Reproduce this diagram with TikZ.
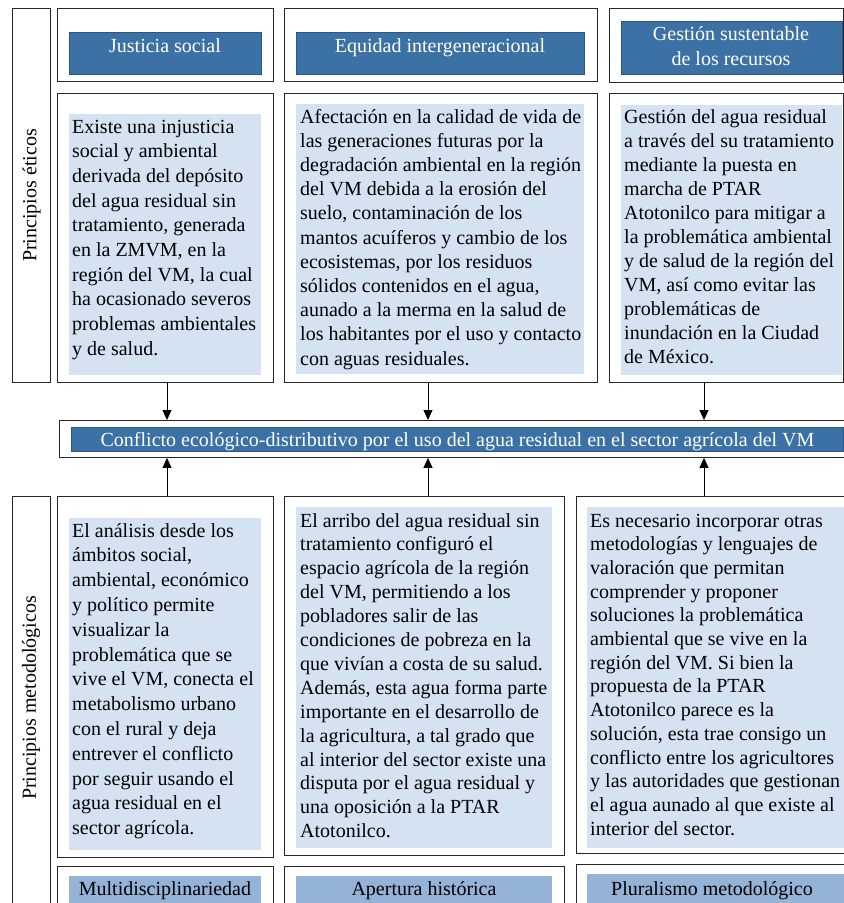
\documentclass[tikz,border=0pt]{standalone}
\usepackage{fontspec}
\setmainfont{Liberation Serif}
\usetikzlibrary{arrows.meta}
\definecolor{hdrblue}{RGB}{59,113,164}
\definecolor{hdrborder}{RGB}{40,88,135}
\definecolor{lightblue}{RGB}{212,226,242}
\definecolor{midblue}{RGB}{149,179,215}
\newcommand\bodytext[2]{\parbox[t]{400pt}{\raggedright\fontsize{20}{#1}\selectfont #2}}
\tikzset{
  frame/.style={draw=black!85, line width=0.9pt, fill=white, inner sep=0pt, anchor=north west},
  hdrbox/.style={fill=hdrblue, draw=hdrborder, line width=0.6pt, inner sep=0pt, anchor=north west},
  lightbox/.style={fill=lightblue, inner sep=0pt, anchor=north west},
  midbox/.style={fill=midblue, inner sep=0pt, anchor=north west},
  hdrtxt/.style={text=white, font=\fontsize{20}{25}\selectfont, inner sep=0pt, anchor=base},
  midtxt/.style={text=black, font=\fontsize{20}{25}\selectfont, inner sep=0pt, anchor=base},
  bodytxt/.style={inner sep=0pt, anchor=base west},
  sidetxt/.style={font=\fontsize{20}{24}\selectfont, rotate=90, inner sep=0pt},
  arr/.style={-{Triangle[length=10pt,width=9pt]}, line width=0.8pt, draw=black}
}
\begin{document}
\begin{tikzpicture}[x=1pt,y=-1pt]
\useasboundingbox (0,0) rectangle (844,903);
\clip (0,0) rectangle (844,903);
\fill[white] (0,0) rectangle (844,903);
% side labels
\node[frame, minimum width=38pt, minimum height=374pt] (L1) at (12,8) {};
\node[sidetxt] (L1t) at (L1.center) {Principios éticos};
\node[frame, minimum width=38pt, minimum height=420pt] (L2) at (12,496) {};
\node[sidetxt] (L2t) at (31,698) {Principios metodológicos};
% top headers
\node[frame, minimum width=216pt, minimum height=73pt] (H1) at (57,8) {};
\node[frame, minimum width=313pt, minimum height=73pt] (H2) at (284,8) {};
\node[frame, minimum width=234pt, minimum height=74pt] (H3) at (609,8) {};
\node[hdrbox, minimum width=192pt, minimum height=42pt] (HB1) at (69,32) {};
\node[hdrbox, minimum width=288pt, minimum height=42pt] (HB2) at (296,32) {};
\node[hdrbox, minimum width=221pt, minimum height=53pt] (HB3) at (621,21) {};
\node[hdrtxt] (HT1) at (165,52) {Justicia social};
\node[hdrtxt] (HT2) at (440,52) {Equidad intergeneracional};
\node[hdrtxt] (HT3a) at (731,40) {Gestión sustentable};
\node[hdrtxt] (HT3b) at (731,65) {de los recursos};
% top bodies
\node[frame, minimum width=216pt, minimum height=289pt] (B1) at (57,93) {};
\node[frame, minimum width=313pt, minimum height=289pt] (B2) at (284,93) {};
\node[frame, minimum width=234pt, minimum height=289pt] (B3) at (609,93) {};
\node[lightbox, minimum width=192pt, minimum height=261pt] (BL1) at (69,114) {};
\node[lightbox, minimum width=288pt, minimum height=270pt] (BL2) at (296,104) {};
\node[lightbox, minimum width=221pt, minimum height=270pt] (BL3) at (621,105) {};
\node[bodytxt] (BT1) at (72,133) {\bodytext{24.7}{Existe una injusticia\\
social y ambiental\\
derivada del depósito\\
del agua residual sin\\
tratamiento, generada\\
en la ZMVM, en la\\
región del VM, la cual\\
ha ocasionado severos\\
problemas ambientales\\
y de salud.}};
\node[bodytxt] (BT2) at (300,123) {\bodytext{24.2}{Afectación en la calidad de vida de\\
las generaciones futuras por la\\
degradación ambiental en la región\\
del VM debida a la erosión del\\
suelo, contaminación de los\\
mantos acuíferos y cambio de los\\
ecosistemas, por los residuos\\
sólidos contenidos en el agua,\\
aunado a la merma en la salud de\\
los habitantes por el uso y contacto\\
con aguas residuales.}};
\node[bodytxt] (BT3) at (624,123) {\bodytext{24.0}{Gestión del agua residual\\
a través del su tratamiento\\
mediante la puesta en\\
marcha de PTAR\\
Atotonilco para mitigar a\\
la problemática ambiental\\
y de salud de la región del\\
VM, así como evitar las\\
problemáticas de\\
inundación en la Ciudad\\
de México.}};
% conflict
\node[frame, minimum width=800pt, minimum height=37pt] (C) at (59,420) {};
\node[hdrbox, minimum width=772pt, minimum height=24pt] (CB) at (71,427) {};
\node[hdrtxt] (CT) at (457.5,446) {Conflicto ecológico-distributivo por el uso del agua residual en el sector agrícola del VM};
% bottom bodies
\node[frame, minimum width=216pt, minimum height=361pt] (D1) at (57,496) {};
\node[frame, minimum width=280pt, minimum height=359pt] (D2) at (284,496) {};
\node[frame, minimum width=280pt, minimum height=357pt] (D3) at (576,496) {};
\node[lightbox, minimum width=192pt, minimum height=332pt] (DL1) at (69,518) {};
\node[lightbox, minimum width=256pt, minimum height=341pt] (DL2) at (296,507) {};
\node[lightbox, minimum width=270pt, minimum height=341pt] (DL3) at (587,507) {};
\node[bodytxt] (DT1) at (72,537) {\bodytext{24.8}{El análisis desde los\\
ámbitos social,\\
ambiental, económico\\
y político permite\\
visualizar la\\
problemática que se\\
vive el VM, conecta el\\
metabolismo urbano\\
con el rural y deja\\
entrever el conflicto\\
por seguir usando el\\
agua residual en el\\
sector agrícola.}};
\node[bodytxt] (DT2) at (300,527) {\bodytext{23.9}{El arribo del agua residual sin\\
tratamiento configuró el\\
espacio agrícola de la región\\
del VM, permitiendo a los\\
pobladores salir de las\\
condiciones de pobreza en la\\
que vivían a costa de su salud.\\
Además, esta agua forma parte\\
importante en el desarrollo de\\
la agricultura, a tal grado que\\
al interior del sector existe una\\
disputa por el agua residual y\\
una oposición a la PTAR\\
Atotonilco.}};
\node[bodytxt] (DT3) at (590,527) {\bodytext{23.7}{Es necesario incorporar otras\\
metodologías y lenguajes de\\
valoración que permitan\\
comprender y proponer\\
soluciones la problemática\\
ambiental que se vive en la\\
región del VM. Si bien la\\
propuesta de la PTAR\\
Atotonilco parece es la\\
solución, esta trae consigo un\\
conflicto entre los agricultores\\
y las autoridades que gestionan\\
el agua aunado al que existe al\\
interior del sector.}};
% bottom headers
\node[frame, minimum width=216pt, minimum height=60pt] (E1) at (57,866) {};
\node[frame, minimum width=280pt, minimum height=60pt] (E2) at (284,866) {};
\node[frame, minimum width=280pt, minimum height=62pt] (E3) at (576,864) {};
\node[midbox, minimum width=192pt, minimum height=40pt] (EB1) at (69,876) {};
\node[midbox, minimum width=256pt, minimum height=40pt] (EB2) at (296,876) {};
\node[midbox, minimum width=270pt, minimum height=42pt] (EB3) at (587,874) {};
\node[midtxt] (ET1) at (165,895) {Multidisciplinariedad};
\node[midtxt] (ET2) at (424,895) {Apertura histórica};
\node[midtxt] (ET3) at (712,895) {Pluralismo metodológico};
% arrows
\coordinate (ax1) at (167,0);
\coordinate (ax2) at (428,0);
\coordinate (ax3) at (704,0);
\draw[arr] (B1.south -| ax1) -- (C.north -| ax1);
\draw[arr] (B2.south -| ax2) -- (C.north -| ax2);
\draw[arr] (B3.south -| ax3) -- (C.north -| ax3);
\draw[arr] (D1.north -| ax1) -- (C.south -| ax1);
\draw[arr] (D2.north -| ax2) -- (C.south -| ax2);
\draw[arr] (D3.north -| ax3) -- (C.south -| ax3);
\end{tikzpicture}
\end{document}
